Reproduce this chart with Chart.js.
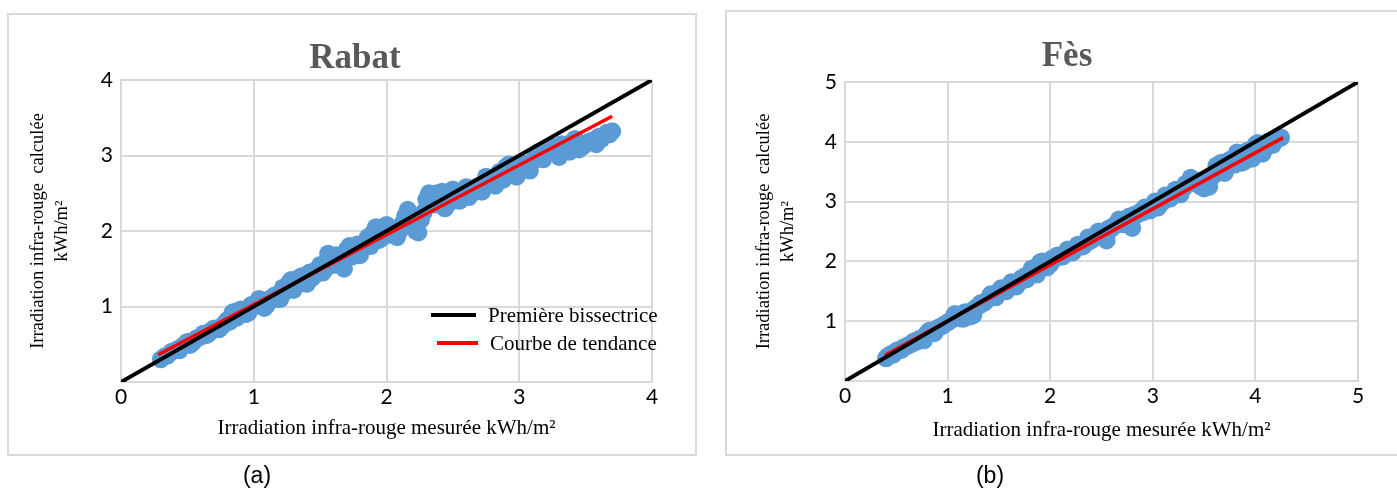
<!DOCTYPE html>
<html>
<head>
<meta charset="utf-8">
<script src="https://cdn.jsdelivr.net/npm/chart.js@4.4.1/dist/chart.umd.min.js"></script>
<style>
  body { margin: 0; width: 1397px; height: 490px; background: #fff; position: relative; overflow: hidden; }
  .box { position: absolute; border: 2px solid #d9d9d9; box-sizing: border-box; }
  canvas { position: absolute; top: 0; }
  .lbl { position: absolute; white-space: nowrap; transform: translate(-50%, -50%); }
  .titre { font: bold 35px "Liberation Serif", serif; color: #595959; }
  .sous { font: 23px "Liberation Sans", sans-serif; color: #000; }
  .leg { position: absolute; font: 21px "Liberation Serif", serif; color: #000; white-space: nowrap; transform: translateY(-50%); }
  .trait { position: absolute; height: 4px; }
</style>
</head>
<body>
<div class="box" style="left:7px;top:13px;width:690px;height:443px"></div>
<div class="box" style="left:725px;top:10px;width:680px;height:446px"></div>

<canvas id="rabat" width="700" height="490" style="left:0"></canvas>
<canvas id="fes" width="697" height="490" style="left:700px"></canvas>

<div class="lbl titre" style="left:355px;top:57px">Rabat</div>
<div class="lbl titre" style="left:1067px;top:55px">Fès</div>
<div class="lbl sous" style="left:257px;top:475px">(a)</div>
<div class="lbl sous" style="left:990px;top:475px">(b)</div>

<div class="trait" style="left:431px;top:313px;width:45px;background:#000"></div>
<div class="leg" style="left:488px;top:315px">Première bissectrice</div>
<div class="trait" style="left:437px;top:341px;width:41px;background:#ff0000"></div>
<div class="leg" style="left:490px;top:343px">Courbe de tendance</div>

<script>
// Rabat : irradiation mesurée / calculée (kWh/m²)
const rabatMesure = [0.30, 0.33, 0.38, 0.42, 0.46, 0.50, 0.54, 0.57, 0.60, 0.64, 0.68, 0.72, 0.76, 0.80,
  0.84, 0.87, 0.90, 0.94, 0.98, 1.02, 1.06, 1.10, 1.14, 1.18, 1.22, 1.26, 1.30, 1.34, 1.38, 1.42,
  1.46, 1.50, 1.54, 1.58, 1.62, 1.66, 1.70, 1.74, 1.78, 1.82, 1.86, 1.90, 1.94, 1.98, 2.02, 2.06,
  2.10, 2.14, 2.18, 2.22, 2.26, 2.30, 2.34, 2.38, 2.42, 2.46, 2.50, 2.55, 2.60, 2.65, 2.70, 2.75,
  2.80, 2.85, 2.90, 2.95, 3.00, 3.05, 3.10, 3.15, 3.20, 3.25, 3.30, 3.35, 3.40, 3.45, 3.50, 3.55,
  3.60, 3.66, 3.70,
  0.35, 0.44, 0.48, 0.52, 0.56, 0.62, 0.66, 0.70, 0.74, 0.78, 0.82, 0.86, 0.89, 0.92, 0.96, 1.00,
  1.04, 1.08, 1.12, 1.16, 1.20, 1.24, 1.28, 1.32, 1.36, 1.40, 1.44, 1.48, 1.52, 1.56, 1.60, 1.64,
  1.68, 1.72, 1.76, 1.80, 1.84, 1.88, 1.92, 1.96, 2.00, 2.04, 2.08, 2.12, 2.16, 2.20, 2.24, 2.28,
  2.32, 2.36, 2.40, 2.44, 2.48, 2.52, 2.57, 2.62, 2.67, 2.72, 2.78, 2.82, 2.88, 2.92, 2.98, 3.02,
  3.08, 3.12, 3.18, 3.22, 3.28, 3.32, 3.38, 3.42, 3.48, 3.52, 3.58, 3.62, 3.68];
const rabatCalcule = [0.30, 0.34, 0.40, 0.43, 0.47, 0.53, 0.52, 0.58, 0.60, 0.62, 0.68, 0.70, 0.74, 0.82,
  0.92, 0.85, 0.96, 0.90, 1.02, 1.05, 1.08, 1.02, 1.12, 1.10, 1.25, 1.30, 1.22, 1.38, 1.32, 1.45,
  1.42, 1.55, 1.50, 1.62, 1.68, 1.56, 1.75, 1.66, 1.82, 1.78, 1.92, 1.98, 1.88, 2.05, 1.95, 1.96,
  2.00, 2.20, 2.22, 2.00, 2.15, 2.42, 2.48, 2.50, 2.52, 2.35, 2.55, 2.40, 2.58, 2.50, 2.60, 2.72,
  2.62, 2.78, 2.85, 2.75, 2.82, 2.88, 2.92, 3.05, 3.05, 3.12, 2.98, 3.10, 3.18, 3.08, 3.15, 3.20,
  3.25, 3.30, 3.32,
  0.35, 0.42, 0.50, 0.49, 0.56, 0.64, 0.64, 0.71, 0.70, 0.77, 0.80, 0.93, 0.88, 0.95, 0.92, 1.00,
  1.10, 0.98, 1.10, 1.15, 1.10, 1.20, 1.35, 1.28, 1.40, 1.30, 1.38, 1.50, 1.45, 1.70, 1.55, 1.62,
  1.50, 1.80, 1.72, 1.68, 1.85, 1.80, 2.05, 1.90, 2.08, 2.02, 1.92, 2.10, 2.28, 2.10, 1.98, 2.25,
  2.50, 2.35, 2.45, 2.30, 2.50, 2.42, 2.52, 2.45, 2.58, 2.52, 2.70, 2.60, 2.68, 2.88, 2.72, 2.90,
  2.80, 2.98, 2.95, 3.10, 3.05, 3.15, 3.05, 3.22, 3.12, 3.18, 3.15, 3.22, 3.28];
const rabatTendanceX = [0.28, 3.70];
const rabatTendanceY = [0.36, 3.52];

// Fès
const fesMesure = [0.40, 0.45, 0.50, 0.55, 0.60, 0.65, 0.70, 0.75, 0.80, 0.85, 0.90, 0.95, 1.00, 1.05,
  1.10, 1.15, 1.20, 1.25, 1.30, 1.35, 1.40, 1.45, 1.50, 1.55, 1.60, 1.65, 1.70, 1.75, 1.80, 1.85,
  1.90, 1.95, 2.00, 2.05, 2.10, 2.15, 2.20, 2.25, 2.30, 2.35, 2.40, 2.45, 2.50, 2.55, 2.60, 2.65,
  2.70, 2.75, 2.80, 2.85, 2.90, 2.95, 3.00, 3.05, 3.10, 3.15, 3.20, 3.25, 3.30, 3.35, 3.40, 3.45,
  3.50, 3.55, 3.60, 3.65, 3.70, 3.75, 3.80, 3.85, 3.90, 3.95, 4.00, 4.05, 4.10, 4.15, 4.20, 4.25,
  0.42, 0.47, 0.52, 0.57, 0.62, 0.67, 0.72, 0.77, 0.82, 0.87, 0.92, 0.97, 1.02, 1.07, 1.12, 1.17,
  1.22, 1.27, 1.32, 1.37, 1.42, 1.47, 1.52, 1.57, 1.62, 1.67, 1.72, 1.77, 1.82, 1.87, 1.92, 1.97,
  2.02, 2.07, 2.12, 2.17, 2.22, 2.27, 2.32, 2.37, 2.42, 2.47, 2.52, 2.57, 2.62, 2.67, 2.72, 2.77,
  2.82, 2.87, 2.92, 2.97, 3.02, 3.07, 3.12, 3.17, 3.22, 3.27, 3.32, 3.37, 3.42, 3.47, 3.52, 3.57,
  3.62, 3.67, 3.72, 3.77, 3.82, 3.87, 3.92, 3.97, 4.02, 4.07, 4.12, 4.17, 4.22];
const fesCalcule = [0.38, 0.45, 0.50, 0.52, 0.58, 0.62, 0.66, 0.72, 0.80, 0.84, 0.88, 0.92, 0.98, 1.05,
  1.08, 1.04, 1.15, 1.10, 1.25, 1.30, 1.38, 1.42, 1.50, 1.52, 1.58, 1.60, 1.65, 1.75, 1.78, 1.82,
  1.98, 1.92, 1.95, 2.05, 2.08, 2.12, 2.18, 2.22, 2.25, 2.30, 2.35, 2.45, 2.48, 2.35, 2.55, 2.62,
  2.65, 2.68, 2.56, 2.78, 2.82, 2.88, 2.92, 2.90, 3.00, 3.05, 3.10, 3.18, 3.22, 3.30, 3.35, 3.28,
  3.22, 3.25, 3.45, 3.55, 3.48, 3.70, 3.62, 3.80, 3.68, 3.75, 3.95, 3.85, 3.90, 4.00, 4.05, 4.07,
  0.42, 0.44, 0.52, 0.56, 0.60, 0.66, 0.70, 0.68, 0.84, 0.80, 0.90, 0.95, 1.00, 1.12, 1.05, 1.15,
  1.08, 1.22, 1.30, 1.33, 1.45, 1.40, 1.55, 1.50, 1.65, 1.58, 1.72, 1.70, 1.88, 1.78, 2.00, 1.90,
  2.05, 2.10, 2.08, 2.20, 2.15, 2.28, 2.25, 2.40, 2.38, 2.50, 2.40, 2.55, 2.60, 2.70, 2.62, 2.75,
  2.78, 2.82, 2.90, 2.85, 3.00, 2.95, 3.10, 3.05, 3.20, 3.12, 3.30, 3.40, 3.35, 3.25, 3.30, 3.40,
  3.60, 3.65, 3.55, 3.65, 3.82, 3.65, 3.85, 3.72, 3.98, 3.80, 4.00, 3.95, 4.05];
const fesTendanceX = [0.39, 4.27];
const fesTendanceY = [0.43, 4.07];

const rabatAxe = [0, 4];
const fesAxe = [0, 5];

const toPoints = (xs, ys) => xs.map((x, i) => ({ x: x, y: ys[i] }));

function makeChart(id, cfg) {
  const grid = { color: "#d9d9d9", lineWidth: 2, drawTicks: false };
  const border = { color: "#d9d9d9", width: 2 };
  const tickFont = { family: "Lato", size: 21 };

  new Chart(document.getElementById(id), {
    type: "scatter",
    data: {
      datasets: [
        {
          label: "Première bissectrice",
          data: toPoints(cfg.axe, cfg.axe),
          showLine: true,
          borderColor: "#000000",
          borderWidth: 4,
          pointRadius: 0,
        },
        {
          label: "Courbe de tendance",
          data: toPoints(cfg.tendX, cfg.tendY),
          showLine: true,
          borderColor: "#ff0000",
          borderWidth: 3.5,
          pointRadius: 0,
        },
        {
          label: "Mesures",
          data: toPoints(cfg.mesure, cfg.calcule),
          backgroundColor: "#5b9bd5",
          borderWidth: 0,
          pointRadius: 9,
        },
      ],
    },
    options: {
      responsive: false,
      animation: false,
      devicePixelRatio: 1,
      layout: { padding: cfg.padding },
      plugins: { legend: { display: false }, title: { display: false }, tooltip: { enabled: false } },
      scales: {
        x: {
          type: "linear",
          min: cfg.axe[0],
          max: cfg.axe[1],
          grid: grid,
          border: border,
          ticks: { stepSize: 1, font: tickFont, color: "#000", padding: 3 },
          title: {
            display: true,
            text: "Irradiation infra-rouge mesurée kWh/m²",
            font: { family: "Liberation Serif", size: 21 },
            color: "#000",
            padding: { top: 0, bottom: cfg.xTitleBottom },
          },
          afterFit: (s) => { s.height = cfg.xHeight; },
        },
        y: {
          type: "linear",
          min: cfg.axe[0],
          max: cfg.axe[1],
          grid: grid,
          border: border,
          ticks: {
            stepSize: 1, font: tickFont, color: "#000", padding: 8,
            callback: (v) => (v === 0 ? "" : v),
          },
          title: {
            display: true,
            text: ["Irradiation infra-rouge  calculée", "kWh/m²"],
            font: { family: "Liberation Serif", size: 18.5, lineHeight: 1.3 },
            color: "#000",
            padding: { top: cfg.yTitleTop, bottom: 0 },
          },
          afterFit: (s) => { s.width = cfg.yWidth; },
        },
      },
    },
  });
}

makeChart("rabat", {
  axe: rabatAxe, mesure: rabatMesure, calcule: rabatCalcule,
  tendX: rabatTendanceX, tendY: rabatTendanceY,
  padding: { left: 0, right: 48, top: 80, bottom: 0 },
  xHeight: 108, yWidth: 121, xTitleBottom: 49.4, yTitleTop: 26,
});

makeChart("fes", {
  axe: fesAxe, mesure: fesMesure, calcule: fesCalcule,
  tendX: fesTendanceX, tendY: fesTendanceY,
  padding: { left: 0, right: 39, top: 82, bottom: 0 },
  xHeight: 109, yWidth: 145, xTitleBottom: 47.4, yTitleTop: 52,
});
</script>
</body>
</html>
